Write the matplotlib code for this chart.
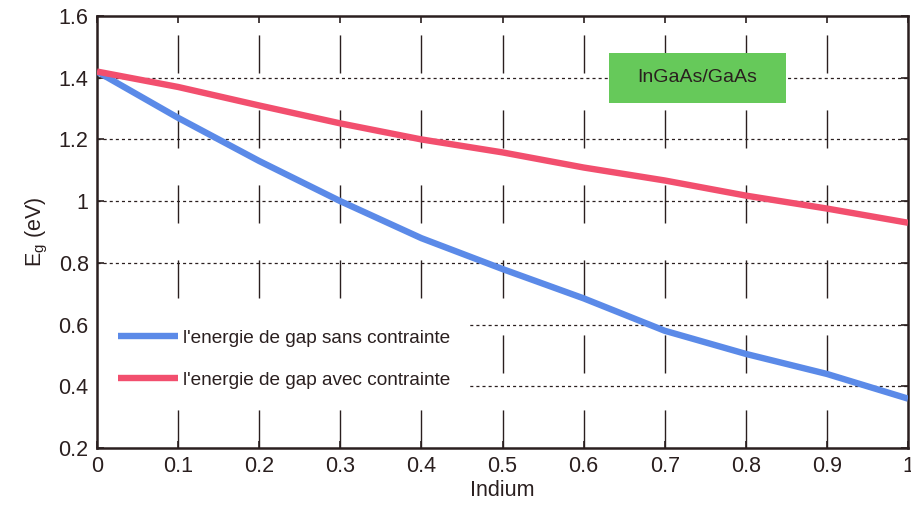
import matplotlib
matplotlib.use("Agg")
import matplotlib.pyplot as plt
from matplotlib.patches import Rectangle

# Indium fraction and band-gap energies (eV)
indium = [0.0, 0.1, 0.2, 0.3, 0.4, 0.5, 0.6, 0.7, 0.8, 0.9, 1.0]
eg_sans = [1.42, 1.27, 1.13, 1.00, 0.88, 0.78, 0.685, 0.58, 0.505, 0.44, 0.36]
eg_avec = [1.42, 1.37, 1.31, 1.252, 1.20, 1.158, 1.109, 1.067, 1.018, 0.976, 0.93]

label_sans = "l'energie de gap sans contrainte"
label_avec = "l'energie de gap avec contrainte"
annotation = "InGaAs/GaAs"
xticks = [0, 0.1, 0.2, 0.3, 0.4, 0.5, 0.6, 0.7, 0.8, 0.9, 1]
xticklabels = ["0", "0.1", "0.2", "0.3", "0.4", "0.5", "0.6", "0.7", "0.8", "0.9", "1"]
yticks = [0.2, 0.4, 0.6, 0.8, 1.0, 1.2, 1.4, 1.6]
yticklabels = ["0.2", "0.4", "0.6", "0.8", "1", "1.2", "1.4", "1.6"]

plt.rcParams["font.family"] = ["Liberation Sans", "DejaVu Sans"]
plt.rcParams["lines.scale_dashes"] = False

ink = "#2a1f1f"

fig = plt.figure(figsize=(9.11, 5.13), dpi=100)
ax = fig.add_axes([0.1065, 0.1267, 0.8902, 0.8421])

ax.set_xlim(0, 1)
ax.set_ylim(0.2, 1.6)

# grid: long dashes vertically, fine dots horizontally
for xv in xticks[1:-1]:
    ax.axvline(xv, color=ink, lw=1.0, linestyle=(0, (27.4, 26.6)), zorder=1)
for yv in yticks[1:-1]:
    ax.axhline(yv, color=ink, lw=0.9, linestyle=(0, (2.2, 2.2)), zorder=1)

ax.plot(indium, eg_sans, color="#5b8ae8", lw=4.6, label=label_sans, zorder=3,
        solid_capstyle="butt")
ax.plot(indium, eg_avec, color="#f24f6e", lw=4.6, label=label_avec, zorder=3,
        solid_capstyle="butt")

ax.set_xticks(xticks)
ax.set_xticklabels(xticklabels)
ax.set_yticks(yticks)
ax.set_yticklabels(yticklabels)
ax.tick_params(direction="in", length=5, width=1.2, labelsize=15.5,
               top=True, right=True, colors=ink, pad=6)
for s in ax.spines.values():
    s.set_linewidth(1.8)
    s.set_color(ink)

ax.set_xlabel("Indium", fontsize=15.5, color=ink, labelpad=2)
ax.set_ylabel(r"E$_\mathregular{g}$ (eV)", fontsize=15.5, color=ink, labelpad=6)

# white backdrop behind the legend, under the spines
ax.add_patch(Rectangle((0.0, 0.107), 0.46, 0.225, transform=ax.transAxes,
                       facecolor="white", edgecolor="none", zorder=2))

leg = ax.legend(loc="upper left", bbox_to_anchor=(0.026, 0.274), fontsize=13.7,
                frameon=False, handlelength=3.15, handletextpad=0.28,
                labelspacing=1.3, borderaxespad=0.0, borderpad=0.0)
leg.set_zorder(5)
for t in leg.get_texts():
    t.set_color(ink)

# labelled green box
ax.add_patch(Rectangle((0.631, 1.317), 0.219, 0.163, facecolor="#66c95a",
                       edgecolor="none", zorder=5))
ax.text(0.74, 1.40, annotation, fontsize=14, color=ink,
        ha="center", va="center", zorder=6)

fig.savefig("out.png", dpi=100)
